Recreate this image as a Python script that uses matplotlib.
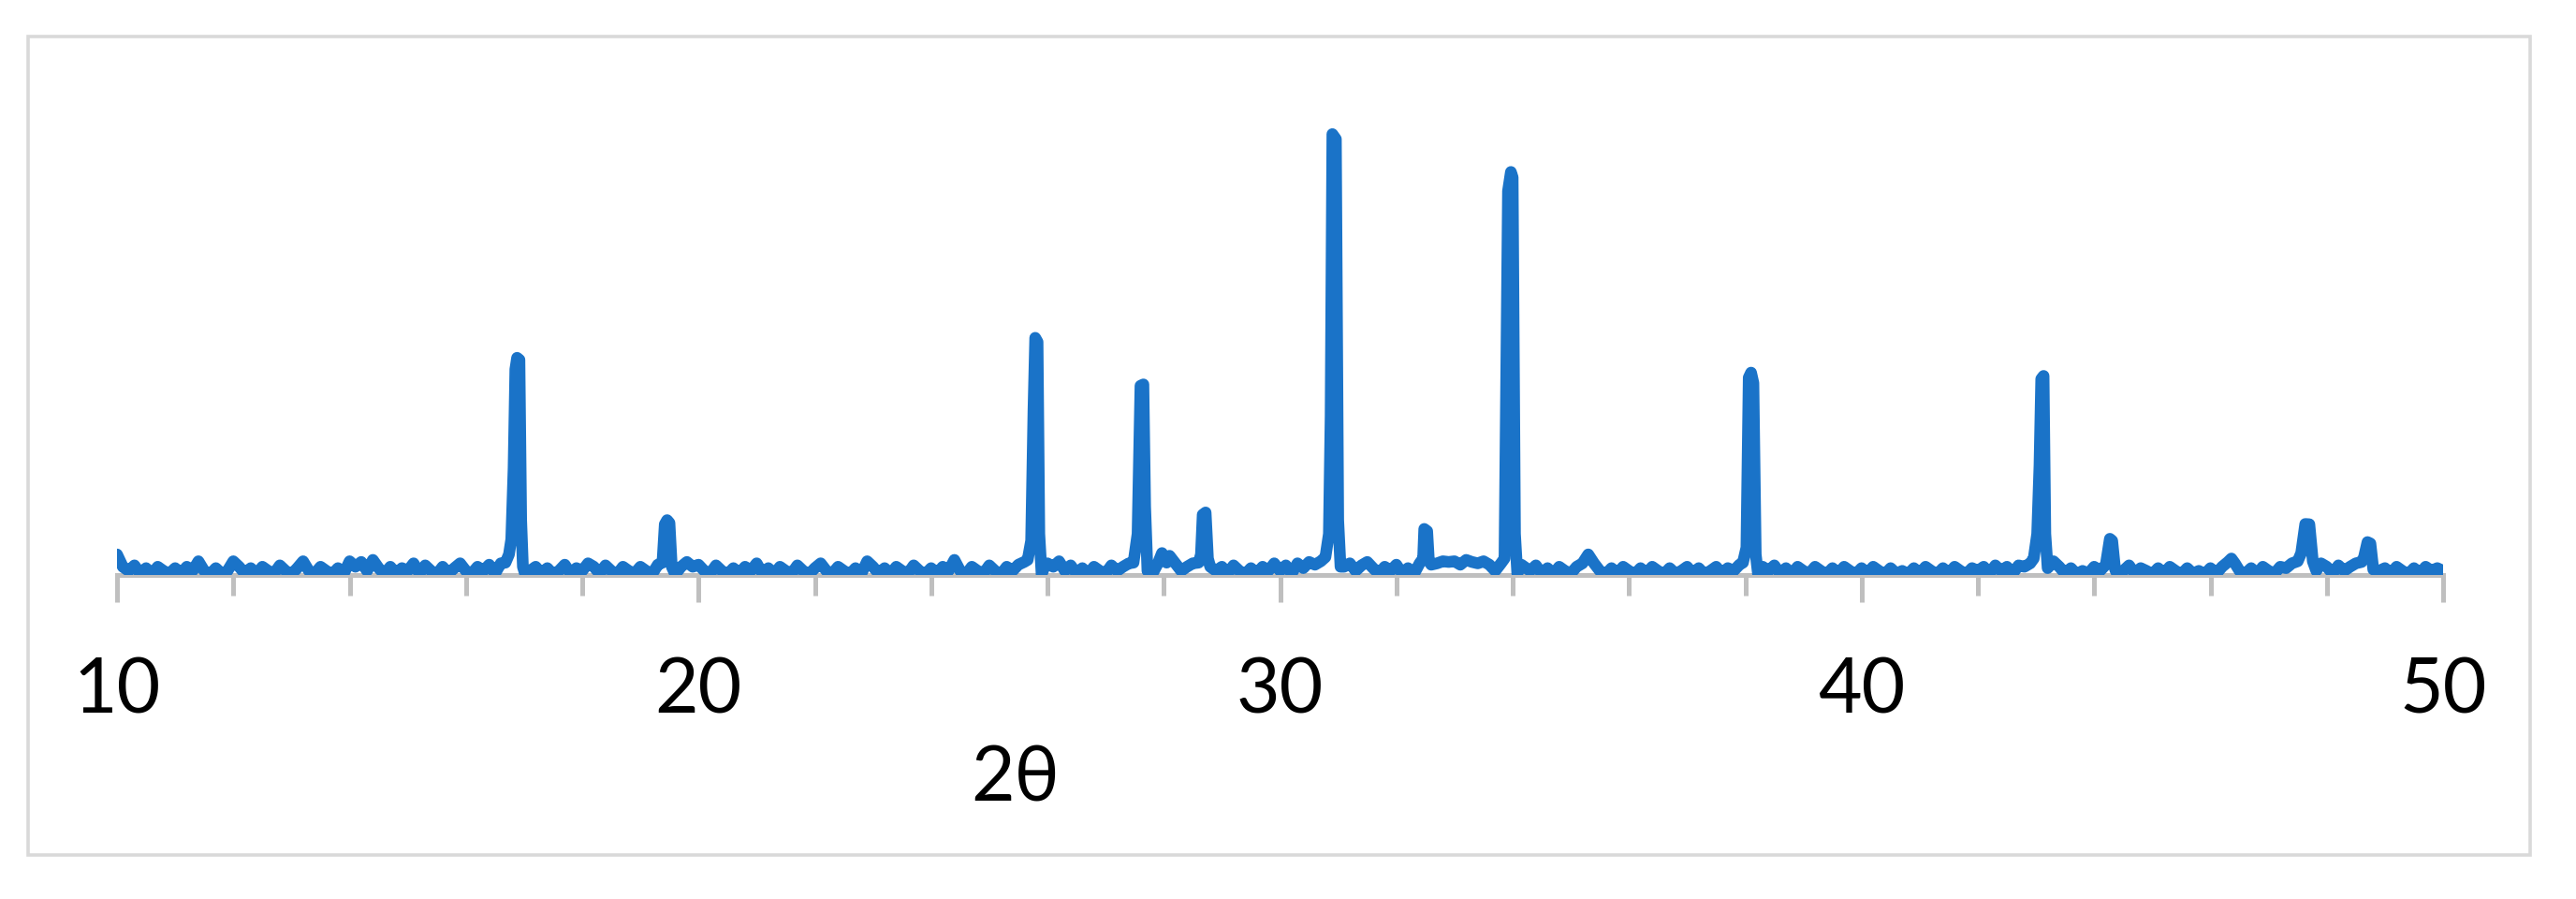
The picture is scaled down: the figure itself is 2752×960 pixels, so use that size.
import numpy as np
import matplotlib
matplotlib.use("Agg")
from matplotlib import pyplot as plt
from matplotlib.patches import Rectangle

# 2theta / intensity (arb. counts), one row per degree
two_theta = [
    10.00, 10.10, 10.20, 10.30, 10.40, 10.50, 10.60, 10.70, 10.80, 10.90,
    11.00, 11.10, 11.20, 11.30, 11.40, 11.50, 11.60, 11.70, 11.80, 11.90,
    12.00, 12.10, 12.20, 12.30, 12.40, 12.50, 12.60, 12.70, 12.80, 12.90,
    13.00, 13.10, 13.20, 13.30, 13.40, 13.50, 13.60, 13.70, 13.80, 13.90,
    14.00, 14.10, 14.20, 14.30, 14.40, 14.50, 14.60, 14.70, 14.80, 14.90,
    15.00, 15.10, 15.20, 15.30, 15.40, 15.50, 15.60, 15.70, 15.80, 15.90,
    16.00, 16.10, 16.20, 16.30, 16.40, 16.50, 16.60, 16.68, 16.74, 16.78,
    16.82, 16.85, 16.88, 16.92, 16.95, 16.98, 17.02,
    17.10, 17.20, 17.30, 17.40, 17.50, 17.60, 17.70, 17.80, 17.90,
    18.00, 18.10, 18.20, 18.30, 18.40, 18.50, 18.60, 18.70, 18.80, 18.90,
    19.00, 19.10, 19.20, 19.30, 19.38, 19.42, 19.46, 19.50, 19.54, 19.60,
    19.70, 19.80, 19.90,
    20.00, 20.10, 20.20, 20.30, 20.40, 20.50, 20.60, 20.70, 20.80, 20.90,
    21.00, 21.10, 21.20, 21.30, 21.40, 21.50, 21.60, 21.70, 21.80, 21.90,
    22.00, 22.10, 22.20, 22.30, 22.40, 22.50, 22.60, 22.70, 22.80, 22.90,
    23.00, 23.10, 23.20, 23.30, 23.40, 23.50, 23.60, 23.70, 23.80, 23.90,
    24.00, 24.10, 24.20, 24.30, 24.40, 24.50, 24.60, 24.70, 24.80, 24.90,
    25.00, 25.10, 25.20, 25.30, 25.40, 25.50, 25.60, 25.66, 25.72, 25.76,
    25.79, 25.83, 25.86, 25.90, 25.95,
    26.00, 26.10, 26.20, 26.30, 26.40, 26.50, 26.60, 26.70, 26.80, 26.90,
    27.00, 27.10, 27.20, 27.30, 27.40, 27.48, 27.55, 27.60, 27.65, 27.68,
    27.72, 27.80, 27.90, 27.97,
    28.05, 28.10, 28.20, 28.30, 28.40, 28.50, 28.60, 28.64, 28.67, 28.72,
    28.76, 28.80, 28.90,
    29.00, 29.10, 29.20, 29.30, 29.40, 29.50, 29.60, 29.70, 29.80, 29.90,
    30.00, 30.10, 30.20, 30.30, 30.40, 30.50, 30.60, 30.70, 30.78, 30.84,
    30.87, 30.90, 30.96, 31.00, 31.04,
    31.10, 31.20, 31.30, 31.40, 31.50, 31.60, 31.70, 31.80, 31.90,
    32.00, 32.10, 32.20, 32.30, 32.40, 32.46, 32.48, 32.53, 32.56, 32.60,
    32.70, 32.80, 32.90,
    33.00, 33.10, 33.20, 33.30, 33.40, 33.50, 33.60, 33.70, 33.80, 33.86,
    33.92, 33.97, 34.00, 34.04, 34.08,
    34.15, 34.20, 34.30, 34.40, 34.50, 34.60, 34.70, 34.80, 34.90,
    35.00, 35.10, 35.20, 35.30, 35.40, 35.50, 35.60, 35.70, 35.80, 35.90,
    36.00, 36.10, 36.20, 36.30, 36.40, 36.50, 36.60, 36.70, 36.80, 36.90,
    37.00, 37.10, 37.20, 37.30, 37.40, 37.50, 37.60, 37.70, 37.80, 37.90,
    37.96, 38.02, 38.06, 38.10, 38.14, 38.18, 38.22, 38.30, 38.40, 38.50,
    38.60, 38.70, 38.80, 38.90,
    39.00, 39.10, 39.20, 39.30, 39.40, 39.50, 39.60, 39.70, 39.80, 39.90,
    40.00, 40.10, 40.20, 40.30, 40.40, 40.50, 40.60, 40.70, 40.80, 40.90,
    41.00, 41.10, 41.20, 41.30, 41.40, 41.50, 41.60, 41.70, 41.80, 41.90,
    42.00, 42.10, 42.20, 42.30, 42.40, 42.50, 42.60, 42.70, 42.80, 42.90,
    42.96, 43.02, 43.06, 43.09, 43.13, 43.16, 43.20, 43.30, 43.40, 43.50,
    43.60, 43.70, 43.80, 43.90,
    44.00, 44.10, 44.20, 44.27, 44.31, 44.36, 44.40, 44.50, 44.60, 44.70,
    44.80, 44.90,
    45.00, 45.10, 45.20, 45.30, 45.40, 45.50, 45.60, 45.70, 45.80, 45.90,
    46.00, 46.10, 46.20, 46.30, 46.36, 46.42, 46.50, 46.60, 46.70, 46.80,
    46.90,
    47.00, 47.10, 47.20, 47.30, 47.40, 47.50, 47.56, 47.63, 47.70, 47.76,
    47.82, 47.90,
    48.00, 48.10, 48.20, 48.30, 48.40, 48.50, 48.60, 48.64, 48.70, 48.75,
    48.80, 48.90,
    49.00, 49.10, 49.20, 49.30, 49.40, 49.50, 49.60, 49.70, 49.80, 49.90,
    50.00,
]
intensity = [
    150, 60, 30, 70, 10, 50, 5, 60, 30, 10,
    50, 10, 60, 30, 100, 30, 5, 50, 10, 30,
    100, 60, 10, 50, 5, 60, 30, 10, 70, 30,
    5, 50, 100, 30, 10, 60, 30, 5, 50, 10,
    100, 60, 95, 30, 110, 50, 5, 60, 10, 50,
    30, 85, 10, 70, 30, 5, 60, 10, 50, 85,
    30, 10, 60, 30, 75, 10, 85, 90, 150, 260,
    780, 1500, 1584, 1570, 400, 60, 5,
    30, 60, 10, 50, 5, 30, 75, 10, 50,
    30, 85, 60, 10, 70, 30, 5, 60, 30, 10,
    60, 30, 5, 75, 90, 370, 400, 380, 60, 5,
    60, 95, 60,
    75, 30, 10, 70, 30, 5, 50, 10, 60, 30,
    85, 10, 50, 5, 60, 30, 10, 70, 30, 5,
    50, 85, 30, 10, 60, 30, 5, 50, 10, 100,
    60, 10, 50, 5, 60, 30, 10, 70, 30, 5,
    50, 10, 60, 30, 110, 30, 5, 60, 30, 10,
    70, 30, 5, 60, 30, 75, 95, 110, 250, 1200,
    1730, 1700, 300, 5, 60,
    85, 60, 100, 30, 70, 10, 50, 5, 60, 30,
    10, 70, 30, 60, 85, 90, 300, 1380, 1390, 500,
    30, 5, 85, 160,
    90, 140, 85, 30, 60, 85, 90, 150, 440, 456,
    120, 60, 30,
    60, 10, 70, 30, 5, 50, 10, 60, 30, 85,
    30, 70, 10, 85, 50, 95, 75, 100, 130, 300,
    1160, 3216, 3180, 400, 60,
    60, 85, 30, 70, 95, 50, 10, 60, 30,
    75, 10, 50, 5, 85, 120, 336, 320, 100, 75,
    85, 100, 95,
    100, 75, 110, 95, 85, 100, 75, 30, 85, 120,
    2800, 2940, 2900, 300, 10,
    75, 60, 30, 70, 10, 50, 5, 60, 30,
    10, 60, 85, 150, 85, 30, 5, 50, 10, 60,
    30, 5, 50, 10, 60, 30, 5, 50, 10, 30,
    60, 10, 50, 5, 30, 60, 10, 50, 30, 75,
    90, 200, 1440, 1476, 1400, 150, 5, 60, 30, 70,
    10, 50, 5, 60,
    30, 10, 60, 30, 5, 50, 10, 60, 30, 5,
    50, 10, 60, 30, 5, 50, 10, 30, 5, 50,
    10, 60, 30, 5, 50, 10, 60, 30, 5, 50,
    30, 60, 10, 70, 30, 60, 10, 70, 60, 85,
    120, 300, 800, 1430, 1452, 300, 50, 100, 60, 10,
    50, 5, 30, 10,
    60, 30, 75, 264, 250, 40, 5, 30, 70, 10,
    50, 30,
    5, 50, 10, 60, 30, 5, 50, 10, 30, 5,
    50, 10, 60, 95, 120, 85, 30, 10, 50, 5,
    60,
    30, 10, 60, 50, 85, 100, 160, 372, 370, 100,
    30, 85,
    60, 10, 70, 30, 60, 85, 95, 130, 240, 230,
    40, 30,
    50, 10, 60, 30, 5, 50, 10, 60, 30, 50,
    30,
]

major_ticks = [10, 20, 30, 40, 50]
minor_ticks = [12, 14, 16, 18, 22, 24, 26, 28, 32, 34, 36, 38, 42, 44, 46, 48]

W, H = 2752, 960
plt.rcParams["font.family"] = ["Lato", "DejaVu Sans"]
fig = plt.figure(figsize=(W / 100, H / 100), dpi=100)

# light grey chart-area border
fig.patches.append(Rectangle((30 / W, 47 / H), (2703 - 30) / W, (913 - 39) / H,
                             transform=fig.transFigure, fill=False,
                             edgecolor="#d9d9d9", linewidth=2.6))

ax = fig.add_axes([125 / W, 346 / H, (2610 - 125) / W, 527 / H])
ax.plot(two_theta, intensity, color="#1A73C8", linewidth=9,
        solid_capstyle="round", solid_joinstyle="round", zorder=3)

ax.set_xlim(10, 50)
ax.set_ylim(0, 3600)
for s in ["top", "right", "left"]:
    ax.spines[s].set_visible(False)
ax.spines["bottom"].set_color("#bfbfbf")
ax.spines["bottom"].set_linewidth(3.6)
ax.set_yticks([])
ax.set_xticks(major_ticks)
ax.set_xticks(minor_ticks, minor=True)
ax.tick_params(axis="x", which="major", length=21, width=3.6, color="#bfbfbf",
               labelsize=58, pad=42)
ax.tick_params(axis="x", which="minor", length=16, width=3.6, color="#bfbfbf")

fig.text(1085 / W, 1 - 833 / H, "2θ", fontsize=58, ha="center", va="center")

plt.savefig("out.png", dpi=100)
